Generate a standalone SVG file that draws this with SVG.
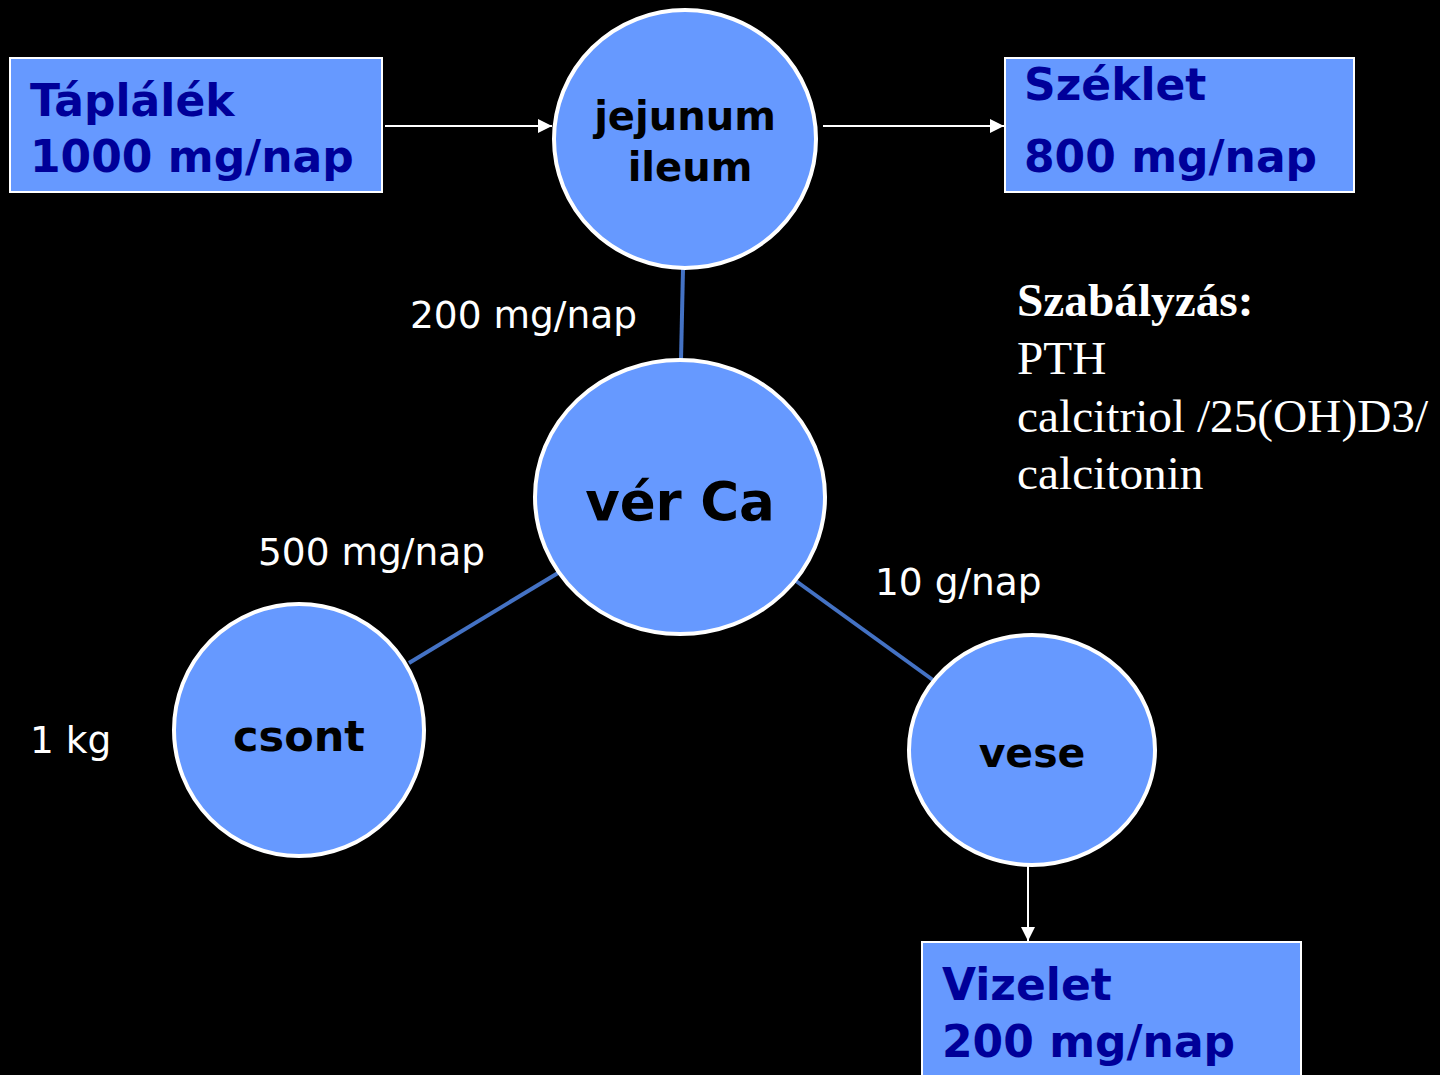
<svg xmlns="http://www.w3.org/2000/svg" width="1440" height="1075" viewBox="0 0 1440 1075">
<defs>
<style>
.box{fill:#6699FF;stroke:#FFFFFF;stroke-width:2}
.node{fill:#6699FF;stroke:#FFFFFF;stroke-width:4}
.bt{font-family:"DejaVu Sans",Verdana,sans-serif;font-weight:bold;fill:#000099;font-size:44px}
.ct{font-family:"DejaVu Sans",Verdana,sans-serif;font-weight:bold;fill:#000000;text-anchor:middle}
.lbl{font-family:"DejaVu Sans",Verdana,sans-serif;fill:#FFFFFF;font-size:37.5px}
.rule{font-family:"Liberation Serif","Times New Roman",serif;fill:#FFFFFF;font-size:47.3px}
.arr{stroke:#FFFFFF;stroke-width:2;fill:none;marker-end:url(#ah)}
.link{stroke:#4472C4;stroke-width:4;fill:none}
</style>
<marker id="ah" viewBox="0 0 10 10" refX="10" refY="5" markerWidth="15" markerHeight="14" markerUnits="userSpaceOnUse" orient="auto">
<path d="M0,0 L10,5 L0,10 z" fill="#FFFFFF"/>
</marker>
</defs>
<rect width="1440" height="1075" fill="#000000"/>
<g id="connectors">
<line class="arr" x1="385" y1="126" x2="552" y2="126"/>
<line class="arr" x1="823" y1="126" x2="1004" y2="126"/>
<line class="arr" x1="1028" y1="866" x2="1028" y2="941"/>
<line class="link" x1="683" y1="269" x2="681" y2="360"/>
<line class="link" x1="409" y1="663" x2="558" y2="573"/>
<line class="link" x1="796" y1="581" x2="933" y2="680"/>
</g>
<g id="taplalek">
<rect class="box" x="10" y="58" width="372" height="134"/>
<text class="bt" x="30" y="116">Táplálék</text>
<text class="bt" x="30" y="172">1000 mg/nap</text>
</g>
<g id="jejunum">
<ellipse class="node" cx="685" cy="139" rx="131" ry="129"/>
<text class="ct" x="685" y="130" font-size="40">jejunum</text>
<text class="ct" x="690" y="181" font-size="40">ileum</text>
</g>
<g id="szeklet">
<rect class="box" x="1005" y="58" width="349" height="134"/>
<text class="bt" x="1024" y="100">Széklet</text>
<text class="bt" x="1024" y="172">800 mg/nap</text>
</g>
<g id="verca">
<ellipse class="node" cx="680" cy="497" rx="145" ry="137"/>
<text class="ct" x="680" y="520" font-size="53">vér Ca</text>
</g>
<g id="csont">
<ellipse class="node" cx="299" cy="730" rx="125" ry="126"/>
<text class="ct" x="299" y="751" font-size="43">csont</text>
</g>
<g id="vese">
<ellipse class="node" cx="1032" cy="750" rx="123" ry="115"/>
<text class="ct" x="1032" y="767" font-size="41">vese</text>
</g>
<g id="vizelet">
<rect class="box" x="922" y="942" width="379" height="140"/>
<text class="bt" x="942" y="1000">Vizelet</text>
<text class="bt" x="942" y="1057">200 mg/nap</text>
</g>
<g id="labels">
<text class="lbl" x="410" y="328">200 mg/nap</text>
<text class="lbl" x="258" y="565">500 mg/nap</text>
<text class="lbl" x="875" y="595">10 g/nap</text>
<text class="lbl" x="30" y="753">1 kg</text>
<text class="rule" x="1017" y="316" font-weight="bold">Szabályzás:</text>
<text class="rule" x="1017" y="374">PTH</text>
<text class="rule" x="1017" y="432">calcitriol /25(OH)D3/</text>
<text class="rule" x="1017" y="489">calcitonin</text>
</g>
</svg>
